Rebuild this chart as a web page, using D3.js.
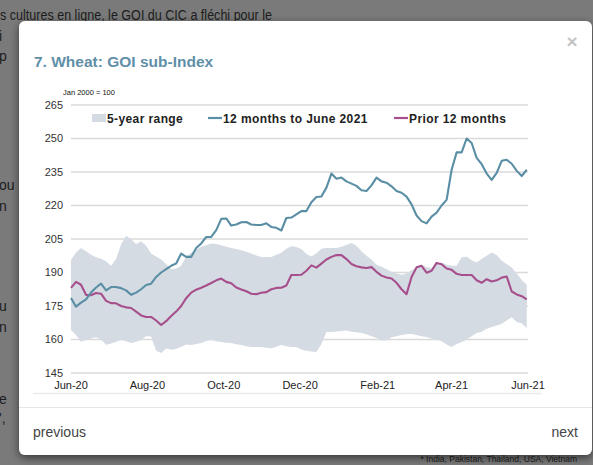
<!DOCTYPE html>
<html><head><meta charset="utf-8">
<script src="https://cdn.jsdelivr.net/npm/d3@7"></script>
<style>
html,body{margin:0;padding:0;background:#7a7a7a;overflow:hidden}
svg{display:block;font-family:"Liberation Sans",Arial,sans-serif}
</style>
</head><body>
<svg id="c" width="593" height="465"></svg>
<script>
// ---- data ----
const startDate = "2020-06-01";
const stepDays = 4;
const blueVals = [178.6,174.7,176.5,178,181,183.3,185,182,183.5,183.5,
183,182,180,181,182.5,184.4,185,188,190,191.5,
193,194,198.5,197,197,201,203,205.9,205.9,209,
214,214.2,211,211.5,212.5,212.6,211.5,211.3,211.3,212,
210.4,210,208.8,214.4,214.6,216,217.5,217.5,221.5,223.8,
224,228,234.3,232,232.5,230.8,229.8,228.8,226.8,226.5,
229,232.5,230.8,230.2,228.6,226.5,225.7,224,220.5,215.5,
213,212,215,216.8,220,222.5,236,243.8,243.8,250,
248,241.3,238.5,234.3,231.5,234.6,240,240.5,238.7,235.5,
233.2,236];
const purpleVals = [183.1,185.8,184.5,180,179.8,180.8,180.5,177.3,176.3,176.2,
175,174.4,174.1,172.5,170.8,170.1,170.1,168.5,166.5,168.2,
170.5,172.5,175,178.5,181,182.3,183.2,184.2,185.3,186.5,
187.3,185.8,185.2,183.3,182.4,181.6,180.5,180.3,180.9,181.2,
182.5,183.1,183.2,184.2,188.9,188.9,189,190.8,193.2,192.2,
194,195.8,197,197.8,197.8,196,193.8,192.8,192.3,192,
192.4,190.3,188.6,187.8,187.3,185.4,182.5,180.3,188,192.3,
193,189.9,190.8,194.3,193.7,191.8,191.2,189.4,188.9,188.9,
188.9,186.5,185.4,187,186,186.5,187.7,188.2,181.5,180.2,
179.4,178];
const bandHigh = [195.6,199,201,199.5,198,196.8,196.2,195,193,196,
202.5,206.5,205,202.6,204,202,198.5,197.2,195.8,193.8,
191.5,191.8,193,197.2,198.8,200.2,201.5,202.2,203,202.8,
202.2,201.5,201,200.5,200,199.3,198.5,197.6,196.9,196.9,
196.9,198,198.8,200.6,201.8,201.4,200.5,198.3,197.2,198.6,
200.6,201,201,201,201.5,202.3,203.2,202,199.5,197.5,
195.8,193.5,192.6,191.5,190.3,189.5,189,189.5,191,192.5,
193.5,192.5,192,194,194.5,193.5,193,193,196.8,197,
195.5,194.5,196,197.5,199,197.8,195.3,193.8,192.2,189.5,
186.6,184.5];
const bandLow = [164.3,162,159,159.8,160.5,161,160,157.6,158.2,159,
159.8,159.2,158.4,159,159.8,161.5,161.3,155,154,156,
155.4,155.8,156.8,157.8,157.5,158,158.4,159.3,159.8,159.2,
158.9,158.6,158.4,157.9,157.5,157,156.6,156.6,156.6,156.3,
156.1,156.8,157.5,157,156.6,156.6,155.5,155,154.6,154.4,
158,163.4,163.4,163.6,163.8,164,163.5,163.2,162.9,162.3,
161.5,160.7,159.5,159.5,161,161.5,162,162.3,162.5,162,
161.5,161.1,160.5,160,159.2,157.8,156.6,158,158.9,160,
161.5,162.9,163.5,164.8,165.6,166.3,167,168.5,170,167.8,
167.3,165];
const yTicks = [145,160,175,190,205,220,235,250,265];
const xTickDates = ["2020-06-01","2020-08-01","2020-10-01","2020-12-01","2021-02-01","2021-04-01","2021-06-01"];
const xTickLabels = ["Jun-20","Aug-20","Oct-20","Dec-20","Feb-21","Apr-21","Jun-21"];
const legendLabels = ["5-year range","12 months to June 2021","Prior 12 months"];
const titleText = "7. Wheat: GOI sub-Index";
const unitText = "Jan 2000 = 100";

// ---- build ----
const parse = d3.utcParse("%Y-%m-%d");
const t0 = parse(startDate);
const dates = blueVals.map((_, i) => d3.utcDay.offset(t0, i * stepDays));
const rows = dates.map((d, i) => ({d, b: blueVals[i], p: purpleVals[i], hi: bandHigh[i], lo: bandLow[i]}));

const svg = d3.select("#c");
const defs = svg.append("defs");
const f = defs.append("filter").attr("id","sh").attr("x","-10%").attr("y","-10%").attr("width","120%").attr("height","120%");
f.append("feDropShadow").attr("dx",0).attr("dy",3).attr("stdDeviation",4).attr("flood-color","#000").attr("flood-opacity",0.55);

// background page text (behind overlay)
const bg = svg.append("g").attr("fill","#1c1c1c").attr("font-size",14);
bg.append("text").attr("x",0).attr("y",20).attr("textLength",272).attr("lengthAdjust","spacingAndGlyphs")
  .text("s cultures en ligne, le GOI du CIC a fléchi pour le");
[[41,"i"],[61,"p"],[190,"ou"],[211,"n"],[311,"u"],[332,"n"],[404,"e"],[423,"',"]].forEach(([y,t]) =>
  bg.append("text").attr("x",-1).attr("y",y).text(t));
svg.append("text").attr("x",577).attr("y",462).attr("text-anchor","end").attr("font-size",8.5)
  .attr("fill","#1c1c1c").text("* India, Pakistan, Thailand, USA, Vietnam");

// modal
svg.append("rect").attr("x",19).attr("y",21).attr("width",573).attr("height",434).attr("rx",6)
  .attr("fill","#fff").attr("filter","url(#sh)");
svg.append("text").attr("x",34).attr("y",67).attr("font-size",15.5).attr("font-weight","bold")
  .attr("fill","#5f8fa8").text(titleText);
svg.append("text").attr("x",572).attr("y",48).attr("text-anchor","middle").attr("font-size",19)
  .attr("font-weight","bold").attr("fill","#c4c4c4").text("×");
svg.append("line").attr("x1",33).attr("x2",542).attr("y1",393.5).attr("y2",393.5).attr("stroke","#ececec").attr("stroke-width",1.5);
svg.append("line").attr("x1",19).attr("x2",592).attr("y1",407.5).attr("y2",407.5).attr("stroke","#e6e6e6");
svg.append("text").attr("x",33).attr("y",437).attr("font-size",14).attr("fill","#444").text("previous");
svg.append("text").attr("x",578).attr("y",437).attr("text-anchor","end").attr("font-size",14).attr("fill","#444").text("next");

// scales
const x = d3.scaleUtc().domain([parse("2020-06-01"), parse("2021-06-01")]).range([71, 528]);
const y = d3.scaleLinear().domain([145, 265]).range([373, 105]);

// grid
svg.append("g").selectAll("line").data(yTicks).join("line")
  .attr("x1",71).attr("x2",528).attr("y1",d=>y(d)).attr("y2",d=>y(d))
  .attr("stroke","#dadada").attr("stroke-width",1.5);
svg.append("g").selectAll("text").data(yTicks).join("text")
  .attr("x",63).attr("y",d=>y(d)).attr("dy","0.36em").attr("text-anchor","end")
  .attr("font-size",11).attr("fill","#333").text(d=>d);
svg.append("g").selectAll("text").data(xTickDates).join("text")
  .attr("x",d=>x(parse(d))).attr("y",389).attr("text-anchor","middle")
  .attr("font-size",11).attr("fill","#222").text((d,i)=>xTickLabels[i]);
svg.append("text").attr("x",63).attr("y",95).attr("font-size",7.5).attr("fill","#111").text(unitText);

// band
svg.append("path").datum(rows).attr("fill","#d5dbe3")
  .attr("d", d3.area().x(d=>x(d.d)).y0(d=>y(d.lo)).y1(d=>y(d.hi)));
// lines
svg.append("path").datum(rows).attr("fill","none").attr("stroke","#a64f8c").attr("stroke-width",2.1)
  .attr("stroke-linejoin","round").attr("d", d3.line().x(d=>x(d.d)).y(d=>y(d.p)));
svg.append("path").datum(rows).attr("fill","none").attr("stroke","#5a8ea4").attr("stroke-width",2.1)
  .attr("stroke-linejoin","round").attr("d", d3.line().x(d=>x(d.d)).y(d=>y(d.b)));

// legend
const lg = svg.append("g").attr("font-size",12).attr("font-weight","bold").attr("fill","#222").attr("letter-spacing",0.4);
lg.append("rect").attr("x",92).attr("y",114).attr("width",14).attr("height",8).attr("fill","#d5dbe3");
lg.append("text").attr("x",107).attr("y",122.5).text(legendLabels[0]);
lg.append("line").attr("x1",208).attr("x2",222).attr("y1",118).attr("y2",118).attr("stroke","#5a8ea4").attr("stroke-width",2.2);
lg.append("text").attr("x",223).attr("y",122.5).text(legendLabels[1]);
lg.append("line").attr("x1",394).attr("x2",408).attr("y1",118).attr("y2",118).attr("stroke","#a64f8c").attr("stroke-width",2.2);
lg.append("text").attr("x",409).attr("y",122.5).text(legendLabels[2]);
</script>
</body></html>
